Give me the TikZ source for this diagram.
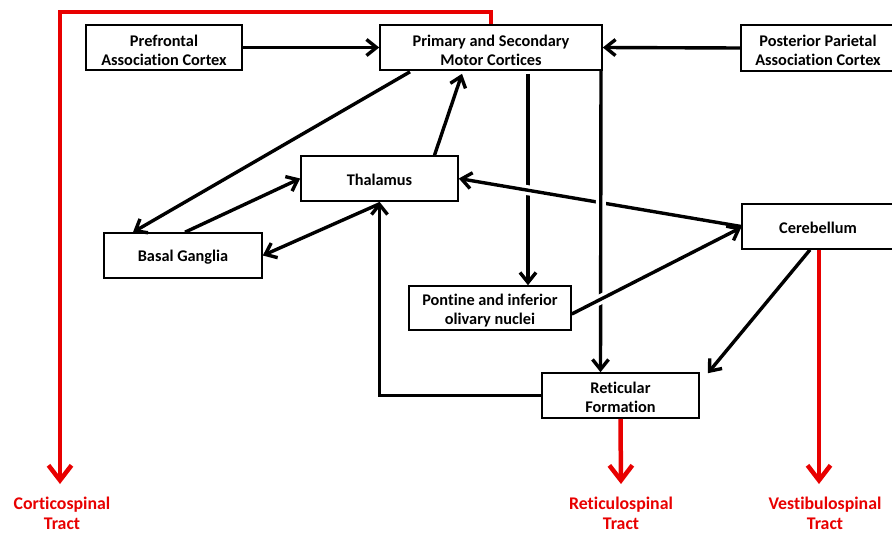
\documentclass[tikz,border=0pt]{standalone}
\usepackage{fontspec}
\setmainfont{Carlito}[Ligatures=NoCommon]
\usetikzlibrary{arrows.meta}
\definecolor{tractred}{RGB}{232,0,0}
\newcommand{\lowstrut}{\rule{0pt}{16.5pt}}
\begin{document}
\begin{tikzpicture}[x=1pt,y=-1pt,
  box/.style={draw,line width=1.6pt,fill=white,inner sep=0pt,align=center,
    font=\fontsize{16.3}{19}\selectfont\bfseries},
  conn/.style={line width=3.4pt,-{Straight Barb[length=10pt,width=16pt]}},
  tract/.style={draw=tractred,line width=4.5pt,-{Straight Barb[length=15pt,width=23pt]}},
  tractlabel/.style={text=tractred,align=center,inner sep=0pt,
    font=\fontsize{17.8}{20}\selectfont\bfseries},
  halo/.style={preaction={draw=white,-,line width=10pt,shorten >=14pt,shorten <=14pt}}
]
\useasboundingbox (0,0) rectangle (892,533);

% boxes
\node[box,minimum width=156pt,minimum height=45pt] (pref) at (164,47.5) {\lowstrut Prefrontal\\Association Cortex};
\node[box,minimum width=222pt,minimum height=45pt] (prim) at (491,47.5) {\lowstrut Primary and Secondary\\Motor Cortices};
\node[box,minimum width=154pt,minimum height=46pt] (post) at (818,48) {\lowstrut Posterior Parietal\\Association Cortex};
\node[box,minimum width=157pt,minimum height=45pt] (thal) at (379.5,178.5) {\rule{0pt}{14pt}Thalamus};
\node[box,minimum width=158pt,minimum height=45pt] (basal) at (183,255.5) {\rule{0pt}{15pt}Basal Ganglia};
\node[box,minimum width=152pt,minimum height=45pt] (cereb) at (818,226.5) {\rule{0pt}{14pt}Cerebellum};
\node[box,minimum width=162pt,minimum height=44pt] (pont) at (490,308) {\lowstrut Pontine and inferior\\olivary nuclei};
\node[box,minimum width=157pt,minimum height=45pt] (retic) at (620.5,395.5) {\rule{0pt}{15.5pt}Reticular\\Formation};

% tract labels
\node[tractlabel] (cst) at (62,513) {Corticospinal\\Tract};
\node[tractlabel] (rst) at (621,513) {Reticulospinal\\Tract};
\node[tractlabel] (vst) at (825,513) {Vestibulospinal\\Tract};
\coordinate (cstend) at (60,484);
\coordinate (rstend) at (621,484);
\coordinate (vstend) at (819,484);

% black connectors
\draw[conn] (pref.east) -- (prim.west);
\draw[conn] (post.west) -- (prim.east);
\draw[conn] ([xshift=-81pt,yshift=-1pt]prim.south) -- ([xshift=-50pt]basal.north);
\draw[conn] ([xshift=2pt]basal.north) -- (thal.west);
\draw[conn] ([yshift=-2pt]thal.south) -- (basal.east);
\draw[conn] (retic.west) -| (thal.south);
\draw[conn] ([xshift=55pt]thal.north) -- ([xshift=-29pt,yshift=-3pt]prim.south);
\draw[conn] ([xshift=37pt,yshift=-3pt]prim.south) -- ([xshift=38pt]pont.north);
\draw[conn,halo] (cereb.west) -- (thal.east);
\draw[conn,halo] ([xshift=110pt]prim.south) -- ([xshift=-20pt]retic.north);
\draw[conn,halo] ([yshift=-6pt]pont.east) -- ([yshift=-1pt]cereb.west);
\draw[conn] ([xshift=-8pt]cereb.south) -- ([xshift=8pt,yshift=-1pt]retic.north east);

% red tracts
\draw[tract] (prim.north) -- ++(0,-12) -| (cstend);
\draw[tract] (retic.south) -- (rstend);
\draw[tract] ([xshift=1pt]cereb.south) -- (vstend);
\end{tikzpicture}
\end{document}
